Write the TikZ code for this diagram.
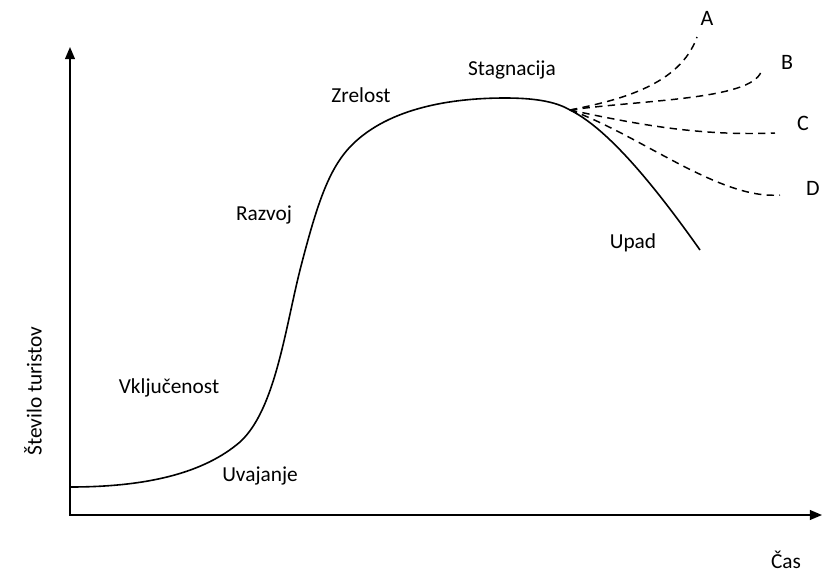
\documentclass[tikz,border=0pt]{standalone}
\usepackage{fontspec}
\setmainfont{Carlito}
\usepackage{xcolor}
\usepackage{tikz}
\usetikzlibrary{arrows.meta,calc,positioning}
\tikzset{
  axis/.style={-{Triangle[length=3.2mm,width=2.6mm]}, draw=black, line width=1.1pt},
  lifecurve/.style={draw=black, line width=1.2pt},
  scenario/.style={draw=black, line width=1.1pt, dash pattern=on 5.5pt off 4pt},
  stagelabel/.style={font=\fontsize{16}{19}\selectfont, inner sep=1pt},
  scenlabel/.style={font=\fontsize{16.5}{19}\selectfont, inner sep=1pt}
}
\begin{document}
\begin{tikzpicture}[x=0.75pt, y=-0.75pt]
  \useasboundingbox (0,0) rectangle (822,572);

  % axes
  \coordinate (origin) at (70,515);
  \coordinate (ytop) at (70,47);
  \coordinate (xend) at (822,515);
  \draw[axis] (origin) -- (ytop);
  \draw[axis] ([xshift=-0.6pt]origin) -- (xend);
  \node[stagelabel, rotate=90] (ylabel) at (33,391) {Število turistov};
  \node[stagelabel] (xlabel) at (786,560) {Čas};

  % life cycle curve
  \coordinate (start) at (70,487);
  \coordinate (turn) at (570,110);
  \coordinate (fall) at (700,250);
  \draw[lifecurve] (start) .. controls (150,487) and (205,472) .. (240,442)
    .. controls (275,410) and (285,330) .. (300,270)
    .. controls (318,200) and (330,165) .. (355,142)
    .. controls (395,105) and (460,98) .. (505,98)
    .. controls (540,98) and (558,103) .. (turn)
    .. controls (600,125) and (640,165) .. (fall);

  % scenarios after stagnation
  \coordinate (endA) at (697,37);
  \coordinate (endB) at (761,72);
  \coordinate (endC) at (775,133);
  \coordinate (endD) at (780,195);
  \draw[scenario] (turn) .. controls (620,100) and (680,85) .. (endA);
  \draw[scenario] (turn) .. controls (640,100) and (750,100) .. (endB);
  \draw[scenario] (turn) .. controls (640,125) and (700,136) .. (endC);
  \draw[scenario] (turn) .. controls (640,135) and (720,200) .. (endD);

  \node[scenlabel] (labA) at (707,18) {A};
  \node[scenlabel] (labB) at (787,62) {B};
  \node[scenlabel] (labC) at (803,123) {C};
  \node[scenlabel] (labD) at (813,188) {D};

  % stages
  \node[stagelabel] (uvajanje) at (260,476) {Uvajanje};
  \node[stagelabel] (vkljucenost) at (169,388) {Vključenost};
  \node[stagelabel] (razvoj) at (264,215) {Razvoj};
  \node[stagelabel] (zrelost) at (361,95) {Zrelost};
  \node[stagelabel] (stagnacija) at (512,70) {Stagnacija};
  \node[stagelabel] (upad) at (633,243) {Upad};
\end{tikzpicture}
\end{document}
